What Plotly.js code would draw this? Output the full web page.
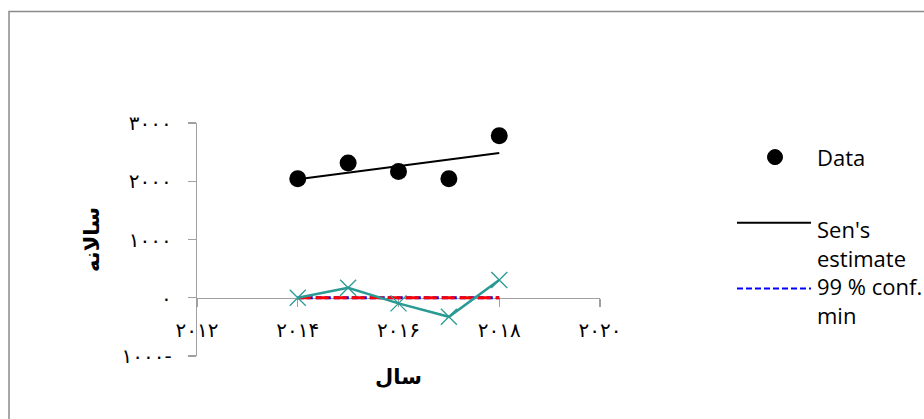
<!DOCTYPE html>
<html>
<head>
<meta charset="utf-8">
<script src="https://cdn.plot.ly/plotly-3.0.1.min.js"></script>
<style>html,body{margin:0;padding:0;background:#fff;}</style>
</head>
<body>
<div id="chart" style="width:924px;height:419px;"></div>
<script>
// ---- data ----
const years = [2014, 2015, 2016, 2017, 2018];
const dataValues = [2043, 2313, 2169, 2043, 2783];
const senYears = [2014, 2018];
const senValues = [2034, 2485];
const confMinValues = [0, 0];
const confMaxValues = [0, 0];
const residuals = [0, 172, -97, -327, 305];

const xTickVals = [2012, 2014, 2016, 2018, 2020];
const xTickText = ['۲۰۱۲', '۲۰۱۴', '۲۰۱۶', '۲۰۱۸', '۲۰۲۰'];
const yTickVals = [-1000, 0, 1000, 2000, 3000];
const yTickText = ['۱۰۰۰-', '۰', '۱۰۰۰', '۲۰۰۰', '۳۰۰۰'];

const legendNames = ['Data', "Sen's", 'estimate', '99 % conf.', 'min'];
const xTitle = 'سال';
const yTitle = 'سالانه';

// ---- layout geometry (pixels) ----
const W = 924, H = 419;
const L = 197, R = 600, T = 123.3, B = 355.7;
const px = x => (x - L) / (R - L);
const py = y => (B - y) / (B - T);

const axisGray = '#a0a0a0';
const teal = '#2a9a94';

const traces = [
  {x: senYears, y: confMinValues, mode: 'lines', name: '99 % conf. min',
   line: {color: '#0000ff', width: 3, dash: '6px,3px'}},
  {x: senYears, y: confMaxValues, mode: 'lines', name: '99 % conf. max',
   line: {color: '#ff0000', width: 3, dash: '13px,5px'}},
  {x: years, y: residuals, mode: 'lines+markers', name: 'Residuals',
   line: {color: teal, width: 2.5},
   marker: {symbol: 'x-thin', size: 16, color: teal, line: {color: teal, width: 1.3}}},
  {x: senYears, y: senValues, mode: 'lines', name: "Sen's estimate",
   line: {color: '#000000', width: 2}},
  {x: years, y: dataValues, mode: 'markers', name: 'Data',
   marker: {symbol: 'circle', size: 17, color: '#000000'}}
];

const legendFont = {family: 'Open Sans', size: 22, color: '#000'};
const textX = px(815);
const legendRows = [157, 229, 258, 286, 315];
const annotations = legendNames.map((t, i) => ({
  text: t, xref: 'paper', yref: 'paper', x: textX, y: py(legendRows[i]),
  xanchor: 'left', yanchor: 'middle', showarrow: false, font: legendFont
}));

const shapes = [
  // outer chart border
  {type: 'rect', xref: 'paper', yref: 'paper', x0: px(9), x1: px(940), y0: py(440), y1: py(12),
   line: {color: '#8a8a8a', width: 1.5}, fillcolor: 'rgba(0,0,0,0)'},
  // legend symbols
  {type: 'circle', xref: 'paper', yref: 'paper', x0: px(767.5), x1: px(782.5), y0: py(164.8), y1: py(149.8),
   fillcolor: '#000', line: {color: '#000', width: 1}},
  {type: 'line', xref: 'paper', yref: 'paper', x0: px(737), x1: px(811), y0: py(222.7), y1: py(222.7),
   line: {color: '#000', width: 2}},
  {type: 'line', xref: 'paper', yref: 'paper', x0: px(737), x1: px(811), y0: py(288.3), y1: py(288.3),
   line: {color: '#0000ff', width: 2, dash: '6px,3px'}}
];

const tickFont = {family: 'DejaVu Sans', size: 20, color: '#000'};
const titleFont = {family: 'DejaVu Sans', size: 21, color: '#000', weight: 'bold'};

const layout = {
  width: W, height: H,
  margin: {l: L, r: W - R, t: T, b: H - B, pad: 0},
  paper_bgcolor: '#fff', plot_bgcolor: '#fff',
  showlegend: false,
  xaxis: {
    range: [2012, 2020], tickvals: xTickVals, ticktext: xTickText,
    anchor: 'free', position: 0.25, layer: 'below traces',
    showline: true, linecolor: axisGray, linewidth: 1.3,
    ticks: 'outside', ticklen: 8, tickcolor: axisGray, tickwidth: 1.3,
    showgrid: false, zeroline: false, tickfont: tickFont, ticklabelstandoff: 6,
    title: {text: xTitle, font: titleFont, standoff: 28}
  },
  yaxis: {
    range: [-1000, 3000], tickvals: yTickVals, ticktext: yTickText, layer: 'below traces',
    showline: true, linecolor: axisGray, linewidth: 1.3,
    ticks: 'outside', ticklen: 8, tickcolor: axisGray, tickwidth: 1.3,
    showgrid: false, zeroline: false, tickfont: tickFont, ticklabelstandoff: 12,
    title: {text: yTitle, font: titleFont, standoff: 16}
  },
  shapes: shapes,
  annotations: annotations
};

Plotly.newPlot('chart', traces, layout, {displayModeBar: false, staticPlot: true});
</script>
</body>
</html>
